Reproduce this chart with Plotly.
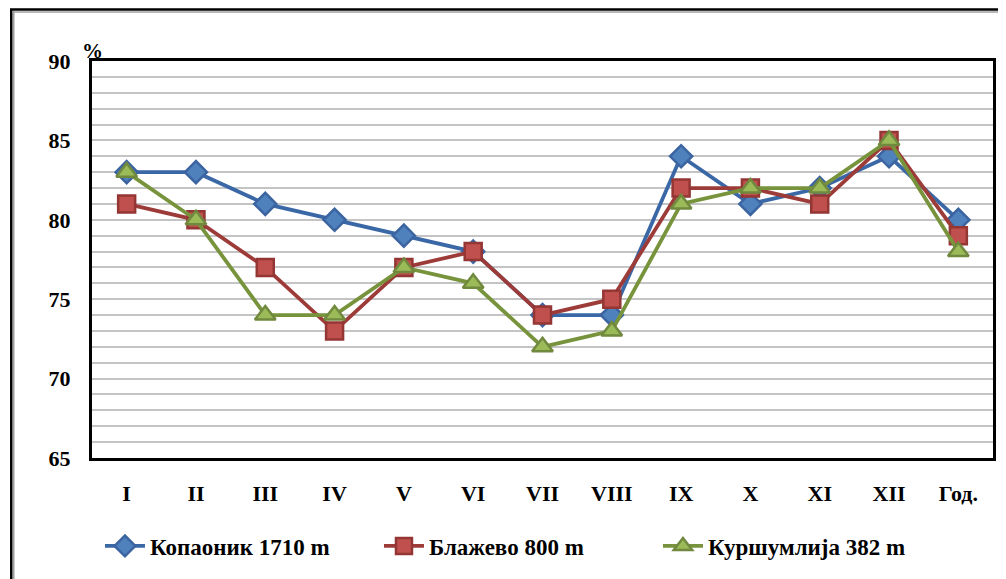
import plotly.graph_objects as go

categories = ["I", "II", "III", "IV", "V", "VI", "VII", "VIII", "IX", "X", "XI", "XII", "Год."]
kopaonik = [83, 83, 81, 80, 79, 78, 74, 74, 84, 81, 82, 84, 80]
blazevo = [81, 80, 77, 73, 77, 78, 74, 75, 82, 82, 81, 85, 79]
kursumlija = [83, 80, 74, 74, 77, 76, 72, 73, 81, 82, 82, 85, 78]
series_names = ["Копаоник 1710 m", "Блажево 800 m", "Куршумлија 382 m"]
y_ticks = [65, 70, 75, 80, 85, 90]

FONT = "Liberation Serif"

# page has an 8px body margin; figure coords = screen coords - 8
W, H = 998, 571
L, T, R_EDGE, B_EDGE = 84, 53, 988, 450
PW, PH = R_EDGE - L, B_EDGE - T


def px(x):
    return (x - 8 - L) / PW


def py(y):
    return (B_EDGE - (y - 8)) / PH


fig = go.Figure()
styles = [
    dict(line="#3A67A5", fill="#4F81BD", border="#3B64A0", symbol="diamond", size=17),
    dict(line="#9C3B38", fill="#C0504D", border="#943634", symbol="square", size=17),
    dict(line="#77933C", fill="#9BBB59", border="#71893F", symbol="triangle-up", size=18),
]
for name, vals, st in zip(series_names, [kopaonik, blazevo, kursumlija], styles):
    fig.add_trace(go.Scatter(
        x=categories, y=vals, name=name, mode="lines+markers",
        line=dict(color=st["line"], width=3.8),
        marker=dict(symbol=st["symbol"], size=st["size"], color=st["fill"],
                    line=dict(color=st["border"], width=2.5)),
    ))

fig.update_layout(
    width=W, height=H,
    margin=dict(l=L, r=W - R_EDGE, t=T, b=H - B_EDGE),
    paper_bgcolor="white", plot_bgcolor="white",
    font=dict(family=FONT, size=22, color="black"),
    showlegend=True,
    legend=dict(orientation="h", x=px(100), xanchor="left", y=py(546), yanchor="middle",
                font=dict(family=FONT, size=23, color="black", weight="bold"),
                itemwidth=40, tracegroupgap=0, bgcolor="rgba(0,0,0,0)",
                entrywidth=224, entrywidthmode="pixels"),
    xaxis=dict(type="category", range=[-0.5, 12.5], showgrid=False,
               showline=True, linecolor="black", linewidth=3, mirror=True,
               ticks="", ticklabelstandoff=14,
               tickfont=dict(family=FONT, size=22, color="black", weight="bold")),
    yaxis=dict(range=[65, 90], tickvals=y_ticks, showgrid=False,
               showline=True, linecolor="black", linewidth=3, mirror=True,
               ticks="", ticklabelstandoff=14, zeroline=False,
               tickfont=dict(family=FONT, size=22, color="black", weight="bold")),
)

fig.update_yaxes(minor=dict(dtick=1, showgrid=True, gridcolor="#C4C4C4", gridwidth=1.5),
                 showgrid=True, gridcolor="#C4C4C4", gridwidth=1.5, dtick=5)

# percent label
fig.add_annotation(text="<b>%</b>", xref="paper", yref="paper", x=px(92), y=py(51),
                   xanchor="center", yanchor="middle", showarrow=False,
                   font=dict(family=FONT, size=21, color="black"))

# outer frame
fig.add_shape(type="rect", xref="paper", yref="paper",
              x0=px(11), x1=px(1020), y0=py(600), y1=py(9.5),
              line=dict(color="black", width=2.5), layer="below")
fig.add_shape(type="line", xref="paper", yref="paper",
              x0=px(13.5), x1=px(13.5), y0=py(600), y1=py(11),
              line=dict(color="#A0A0A0", width=1.5), layer="below")
fig.add_shape(type="line", xref="paper", yref="paper",
              x0=px(12), x1=px(1020), y0=py(12), y1=py(12),
              line=dict(color="#A0A0A0", width=1.5), layer="below")

fig.write_html("out.html")
